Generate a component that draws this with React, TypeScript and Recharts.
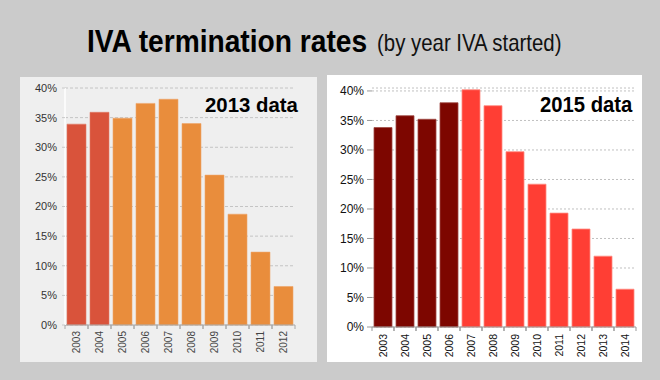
import React from "react";
import { BarChart, Bar, XAxis, YAxis, CartesianGrid, Cell } from "recharts";

const years2013 = ["2003", "2004", "2005", "2006", "2007", "2008", "2009", "2010", "2011", "2012"];
const rates2013 = [33.9, 35.9, 34.9, 37.4, 38.1, 34.0, 25.3, 18.7, 12.3, 6.5];
const highlight2013 = 2;

const years2015 = ["2003", "2004", "2005", "2006", "2007", "2008", "2009", "2010", "2011", "2012", "2013", "2014"];
const rates2015 = [33.8, 35.8, 35.2, 38.0, 40.2, 37.5, 29.7, 24.2, 19.3, 16.6, 12.0, 6.4];
const highlight2015 = 4;

const yTicks = [0, 5, 10, 15, 20, 25, 30, 35, 40];

const data2013 = years2013.map((y, i) => ({ year: y, rate: rates2013[i] }));
const data2015 = years2015.map((y, i) => ({ year: y, rate: rates2015[i] }));

const FONT = "'Liberation Sans', Arial, sans-serif";

function makeXTick(band: number, gap: number, color: string, size: number, weight: number, tickColor: string) {
  return (props: any) => {
    const { x, y, payload } = props;
    const y0 = y - 8 + gap; // props y already includes tickSize+margin offset
    return (
      <g>
        <line x1={x - band / 2} y1={y - 8} x2={x - band / 2} y2={y - 4} stroke={tickColor} />
        <line x1={x + band / 2} y1={y - 8} x2={x + band / 2} y2={y - 4} stroke={tickColor} />
        <text
          x={x}
          y={y0}
          dy="0.35em"
          textAnchor="end"
          transform={`rotate(-90, ${x}, ${y0})`}
          fill={color}
          fontSize={size}
          fontWeight={weight}
          fontFamily={FONT}
        >
          {payload.value}
        </text>
      </g>
    );
  };
}

export default function App() {
  return (
    <div
      style={{
        position: "absolute",
        left: 0,
        top: 0,
        width: 660,
        height: 380,
        background: "#cbcbcb",
        overflow: "hidden",
        fontFamily: FONT,
      }}
    >
      <div
        style={{
          position: "absolute",
          left: 87,
          top: 24.6,
          fontSize: 32,
          lineHeight: "32px",
          fontWeight: 700,
          color: "#000",
          whiteSpace: "nowrap",
          transform: "scaleX(0.88)",
          transformOrigin: "left top",
        }}
      >
        IVA termination rates
      </div>
      <div
        style={{
          position: "absolute",
          left: 377,
          top: 31.4,
          fontSize: 24,
          lineHeight: "24px",
          color: "#111",
          whiteSpace: "nowrap",
          transform: "scaleX(0.85)",
          transformOrigin: "left top",
        }}
      >
        (by year IVA started)
      </div>

      {/* Left panel */}
      <div style={{ position: "absolute", left: 20, top: 77, width: 297, height: 285, background: "#efefef" }}>
        <BarChart
          width={297}
          height={285}
          data={data2013}
          margin={{ top: 11, right: 22, bottom: 0, left: 0 }}
        >
          <CartesianGrid vertical={false} stroke="#c4c4c4" strokeDasharray="3 2" />
          <XAxis
            dataKey="year"
            height={37}
            interval={0}
            axisLine={{ stroke: "#a8a8a8" }}
            tickLine={false}
            tick={makeXTick(23, 6, "#444", 10, 400, "#a8a8a8")}
          />
          <YAxis
            width={45}
            domain={[0, 40]}
            ticks={yTicks}
            tickFormatter={(v: number) => `${v}%`}
            axisLine={{ stroke: "#fbfbfb", strokeWidth: 2 }}
            tickLine={{ stroke: "#c8c8c8" }}
            tickSize={3}
            tickMargin={5}
            tick={{ fill: "#333", fontSize: 11, fontFamily: FONT }}
          />
          <Bar dataKey="rate" barSize={19} isAnimationActive={false}>
            {data2013.map((d, i) => (
              <Cell key={d.year} fill={i < highlight2013 ? "#d9533b" : "#e98d3c"} stroke={i < highlight2013 ? "#e07a66" : "#efa568"} strokeWidth={0.6} />
            ))}
          </Bar>
        </BarChart>
        <div
          style={{
            position: "absolute",
            left: 185,
            top: 16.9,
            fontSize: 21,
            lineHeight: "21px",
            fontWeight: 700,
            color: "#000",
            whiteSpace: "nowrap",
            transform: "scaleX(0.97)",
            transformOrigin: "left top",
          }}
        >
          2013 data
        </div>
      </div>

      {/* Right panel */}
      <div style={{ position: "absolute", left: 327, top: 75, width: 315, height: 287, background: "#ffffff" }}>
        <BarChart
          width={315}
          height={287}
          data={data2015}
          margin={{ top: 13, right: 6, bottom: 0, left: 0 }}
        >
          <CartesianGrid vertical={false} stroke="#c0c0c0" strokeDasharray="2 2" />
          <XAxis
            dataKey="year"
            height={35}
            interval={0}
            axisLine={{ stroke: "#999" }}
            tickLine={false}
            tick={makeXTick(22, 7, "#111", 10.5, 400, "#999")}
          />
          <YAxis
            width={45}
            domain={[0, 40.5]}
            ticks={yTicks}
            tickFormatter={(v: number) => `${v}%`}
            axisLine={false}
            tickLine={{ stroke: "#999" }}
            tickSize={5}
            tickMargin={3}
            tick={{ fill: "#111", fontSize: 12, fontFamily: FONT }}
          />
          <Bar dataKey="rate" barSize={18} isAnimationActive={false}>
            {data2015.map((d, i) => (
              <Cell key={d.year} fill={i < highlight2015 ? "#7d0600" : "#ff3e34"} stroke={i < highlight2015 ? "#a04a44" : "#ff8a80"} strokeWidth={0.8} />
            ))}
          </Bar>
        </BarChart>
        <div
          style={{
            position: "absolute",
            left: 213,
            top: 19.1,
            fontSize: 22,
            lineHeight: "22px",
            fontWeight: 700,
            color: "#000",
            whiteSpace: "nowrap",
            transform: "scaleX(0.92)",
            transformOrigin: "left top",
          }}
        >
          2015 data
        </div>
      </div>
    </div>
  );
}
